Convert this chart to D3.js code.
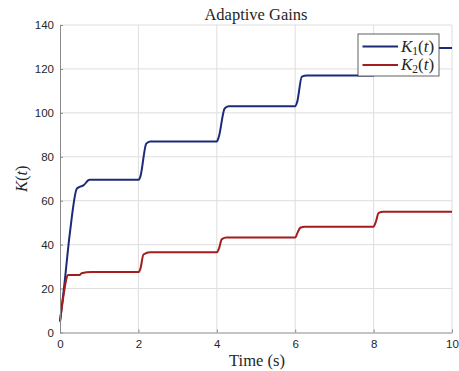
<!DOCTYPE html>
<html>
<head>
<meta charset="utf-8">
<script src="https://cdn.jsdelivr.net/npm/d3@7"></script>
<style>
  html, body { margin: 0; padding: 0; background: #fff; }
  svg { display: block; }
  .tick text { font-family: "Liberation Sans", Arial, sans-serif; font-size: 11.5px; fill: #262626; }
</style>
</head>
<body>
<svg id="chart" width="459" height="371"></svg>
<script>
// Adaptive gain trajectories K1(t) and K2(t)
const timeK1 = [0, 0.1, 0.25, 0.43, 0.5, 0.6, 0.75, 2.0, 2.05, 2.2, 2.3, 4.0, 4.05, 4.2, 4.3, 6.0, 6.05, 6.17, 6.3, 8.0, 8.05, 8.2, 8.3, 10];
const valuesK1 = [5, 20, 45, 65.5, 66.3, 67, 69.5, 69.5, 71, 86, 87, 87, 89, 102, 103, 103, 105, 116.5, 117, 117, 119, 129, 129.5, 129.5];
const timeK2 = [0, 0.1, 0.17, 0.2, 0.5, 0.55, 0.8, 2.0, 2.05, 2.13, 2.3, 4.0, 4.05, 4.13, 4.25, 6.0, 6.05, 6.13, 6.25, 8.0, 8.05, 8.13, 8.25, 10];
const valuesK2 = [5, 18, 25, 26.2, 26.2, 27, 27.5, 27.5, 29, 35.5, 36.5, 36.5, 38, 42.5, 43.2, 43.2, 45, 47.7, 48.2, 48.2, 50, 54.5, 55, 55];
const xTicks = [0, 2, 4, 6, 8, 10];
const yTicks = [0, 20, 40, 60, 80, 100, 120, 140];
const seriesNames = ["K1", "K2"];
const seriesColors = ["#1d2a78", "#a31d1d"];

const svg = d3.select("#chart");
const margin = { left: 60, right: 7, top: 25, bottom: 38.5 };
const W = 459, H = 371;
const x = d3.scaleLinear().domain([0, 10]).range([margin.left, W - margin.right]);
const y = d3.scaleLinear().domain([0, 140]).range([H - margin.bottom, margin.top]);

// grid
const grid = svg.append("g").attr("stroke", "#dedede").attr("stroke-width", 1);
grid.selectAll("line.v").data(xTicks.slice(1)).join("line")
  .attr("x1", d => x(d)).attr("x2", d => x(d))
  .attr("y1", y(0)).attr("y2", y(140));
grid.selectAll("line.h").data(yTicks.slice(1)).join("line")
  .attr("y1", d => y(d)).attr("y2", d => y(d))
  .attr("x1", x(0)).attr("x2", x(10));

// series
const series = [
  { t: timeK1, v: valuesK1 },
  { t: timeK2, v: valuesK2 }
];
const line = d3.line().x(d => x(d[0])).y(d => y(d[1])).curve(d3.curveMonotoneX);
series.forEach((s, i) => {
  svg.append("path")
    .datum(s.t.map((t, j) => [t, s.v[j]]))
    .attr("fill", "none")
    .attr("stroke", seriesColors[i])
    .attr("stroke-width", 2)
    .attr("stroke-linejoin", "round")
    .attr("d", line);
});

// axes
const xAxis = d3.axisBottom(x).tickValues(xTicks).tickSizeInner(-3).tickSizeOuter(0).tickPadding(7);
const yAxis = d3.axisLeft(y).tickValues(yTicks).tickSizeInner(-3).tickSizeOuter(0).tickPadding(6);
const gx = svg.append("g").attr("transform", `translate(0,${y(0)})`).call(xAxis);
const gy = svg.append("g").attr("transform", `translate(${x(0)},0)`).call(yAxis);
[gx, gy].forEach(g => {
  g.select(".domain").attr("stroke", "#8a8a8a");
  g.selectAll(".tick line").attr("stroke", "#8a8a8a");
});

// labels
const serif = "'Liberation Serif', 'DejaVu Serif', serif";
svg.append("text").attr("x", (x(0) + x(10)) / 2).attr("y", 20)
  .attr("text-anchor", "middle").attr("font-family", serif)
  .attr("font-size", 16.5).attr("fill", "#262626").text("Adaptive Gains");
svg.append("text").attr("x", (x(0) + x(10)) / 2 + 1).attr("y", 366)
  .attr("text-anchor", "middle").attr("font-family", serif)
  .attr("font-size", 16.5).attr("fill", "#262626").text("Time (s)");
const yl = svg.append("text")
  .attr("transform", `translate(27,${(y(0) + y(140)) / 2}) rotate(-90)`)
  .attr("text-anchor", "middle").attr("font-family", serif)
  .attr("font-size", 16.5).attr("fill", "#262626");
yl.append("tspan").attr("font-style", "italic").text("K");
yl.append("tspan").text("(");
yl.append("tspan").attr("font-style", "italic").text("t");
yl.append("tspan").text(")");

// legend
const lg = svg.append("g").attr("transform", "translate(358,34)");
lg.append("rect").attr("width", 81).attr("height", 42)
  .attr("fill", "#fff").attr("stroke", "#3a3a3a").attr("stroke-width", 0.8);
seriesNames.forEach((name, i) => {
  const yy = 12.5 + i * 18.5;
  lg.append("line").attr("x1", 4.5).attr("x2", 40).attr("y1", yy).attr("y2", yy)
    .attr("stroke", seriesColors[i]).attr("stroke-width", 2);
  const t = lg.append("text").attr("x", 43).attr("y", yy + 5)
    .attr("font-family", serif).attr("font-size", 17).attr("fill", "#262626");
  t.append("tspan").attr("font-style", "italic").text(name[0]);
  t.append("tspan").attr("font-size", 11.5).attr("dy", 3).text(name[1]);
  t.append("tspan").attr("dy", -3).text("(");
  t.append("tspan").attr("font-style", "italic").text("t");
  t.append("tspan").text(")");
});
</script>
</body>
</html>
